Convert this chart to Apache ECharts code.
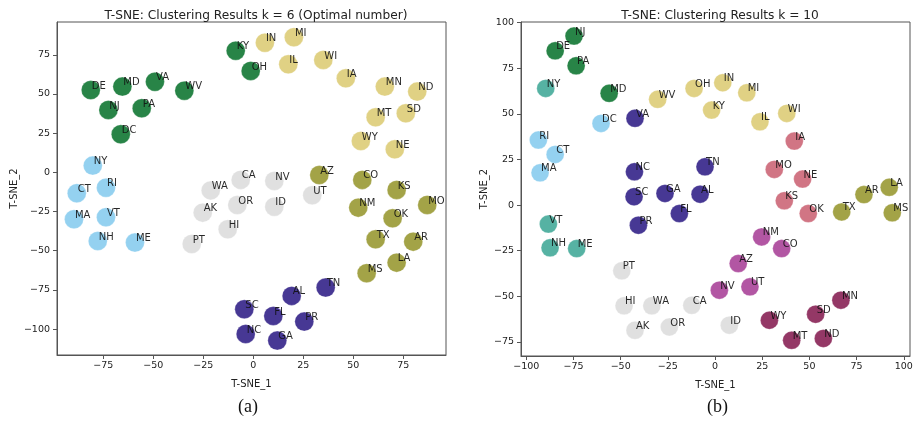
<!DOCTYPE html>
<html><head><meta charset="utf-8">
<script src="https://cdn.jsdelivr.net/npm/echarts@6/dist/echarts.min.js"></script>
<style>html,body{margin:0;padding:0;background:#fff}#c{width:917px;height:422px}</style>
</head><body><div id="c"></div>
<script>
// ---- k = 6 (left) ----
const k6Green  = [["KY",-8.8,77.6],["OH",-1.3,64.7],["DE",-81.3,52.5],["MD",-65.5,54.7],["VA",-49.2,57.8],["WV",-34.5,52.1],["NJ",-72.5,39.8],["PA",-55.8,40.9],["DC",-66.3,24.3]];
const k6Sand   = [["IN",5.8,82.7],["MI",20.3,86.2],["IL",17.5,68.9],["WI",35,71.7],["IA",46.3,60],["MN",65.8,54.7],["ND",82,51.5],["MT",61.2,35.1],["SD",76.3,37.7],["WY",53.8,20],["NE",70.8,14.7]];
const k6Blue   = [["NY",-80.3,4.3],["RI",-73.7,-9.8],["CT",-88.3,-13.3],["MA",-89.7,-29.9],["VT",-73.7,-28.6],["NH",-77.8,-43.8],["ME",-59.2,-44.8]];
const k6Grey   = [["CA",-6.3,-4.8],["NV",10.5,-5.5],["WA",-21.3,-11.5],["UT",29.5,-14.6],["OR",-8,-20.8],["AK",-25.3,-25.7],["ID",10.5,-21.9],["HI",-12.8,-36.3],["PT",-30.8,-45.7]];
const k6Olive  = [["AZ",33,-1.7],["CO",54.5,-4.8],["KS",71.7,-11.2],["NM",52.5,-22.5],["MO",87,-20.8],["OK",69.7,-29.3],["TX",61.2,-42.7],["AR",80,-44.2],["LA",71.7,-57.6],["MS",56.7,-64.3]];
const k6Indigo = [["TN",36.2,-73.5],["AL",19.2,-78.8],["SC",-4.5,-87.3],["FL",10,-91.6],["PR",25.5,-95.2],["NC",-3.8,-103.1],["GA",12,-107.3]];

// ---- k = 10 (right) ----
const k10Green  = [["NJ",-74.7,92.7],["DE",-84.7,84.6],["PA",-73.6,76.4],["MD",-56.1,61.3]];
const k10Teal   = [["NY",-89.7,64],["VT",-88.3,-10.4],["NH",-87.4,-23.4],["ME",-73.3,-23.8]];
const k10Sand   = [["WV",-30.4,58],["OH",-11.1,64],["IN",4.1,67.1],["MI",16.8,61.6],["KY",-1.8,52.1],["WI",38,50.3],["IL",23.8,45.7]];
const k10Blue   = [["DC",-60.4,44.8],["RI",-93.6,35.7],["CT",-84.7,27.8],["MA",-92.7,17.7]];
const k10Indigo = [["VA",-42.4,47.6],["NC",-42.7,18.3],["TN",-5.3,21],["SC",-42.9,4.6],["GA",-26.5,6.4],["AL",-7.9,6],["FL",-18.9,-4.6],["PR",-40.6,-11]];
const k10Rose   = [["IA",42,35.1],["MO",31.4,19.6],["NE",46.4,14.3],["KS",36.7,2.4],["OK",49.4,-4.6]];
const k10Olive  = [["LA",92.3,9.8],["AR",78.9,5.8],["TX",67.1,-3.7],["MS",93.9,-4.2]];
const k10Purple = [["NM",24.7,-17.4],["CO",35.3,-23.8],["AZ",12.3,-32],["NV",2.3,-46.6],["UT",18.5,-44.8]];
const k10Grey   = [["PT",-49.4,-36],["HI",-48.2,-55.2],["WA",-33.5,-55.2],["CA",-12.3,-54.9],["ID",7.6,-65.8],["OR",-24.2,-66.8],["AK",-42.4,-68.6]];
const k10Wine   = [["MN",66.7,-52.1],["SD",53.3,-59.8],["WY",28.8,-63.1],["MT",40.6,-74.1],["ND",57.4,-73.1]];

const leftXTicks  = [-75,-50,-25,0,25,50,75];
const leftYTicks  = [-100,-75,-50,-25,0,25,50,75];
const rightXTicks = [-100,-75,-50,-25,0,25,50,75,100];
const rightYTicks = [-75,-50,-25,0,25,50,75,100];

const C = {green:'#117733', sand:'#DDCC77', blue:'#88CCEE', grey:'#DDDDDD', olive:'#999933', indigo:'#332288', teal:'#44AA99', rose:'#CC6677', purple:'#AA4499', wine:'#882255'};

const minus = v => String(v).replace('-', '\u2212');
const FONT = 'DejaVu Sans';
const AX = '#555';

function mkX(idx, min, max, ticks){
  return {gridIndex: idx, type:'value', min, max, name:'T-SNE_1', nameLocation:'middle', nameGap:24,
    nameTextStyle:{fontFamily:FONT, fontSize:10, color:'#222'},
    splitLine:{show:false},
    axisLine:{show:true, onZero:false, lineStyle:{color:AX, width:1}},
    axisTick:{show:true, inside:false, length:4, customValues:ticks, lineStyle:{color:AX}},
    axisLabel:{customValues:ticks, formatter:minus, fontFamily:FONT, fontSize:9.5, color:'#222', margin:6}};
}
function mkY(idx, min, max, ticks, gap){
  return {gridIndex: idx, type:'value', min, max, name:'T-SNE_2', nameLocation:'middle', nameGap:gap, nameRotate:90,
    nameTextStyle:{fontFamily:FONT, fontSize:10, color:'#222'},
    splitLine:{show:false},
    axisLine:{show:true, onZero:false, lineStyle:{color:AX, width:1}},
    axisTick:{show:true, inside:false, length:4, customValues:ticks, lineStyle:{color:AX}},
    axisLabel:{customValues:ticks, formatter:minus, fontFamily:FONT, fontSize:9.5, color:'#222', margin:7}};
}
function mkS(data, color, gi, size){
  return {type:'scatter', xAxisIndex:gi, yAxisIndex:gi, symbolSize:size,
    data: data.map(d => ({name:d[0], value:[d[1], d[2]]})),
    itemStyle:{color, opacity:0.9, borderColor:'rgba(255,255,255,0.6)', borderWidth:0.5},
    label:{show:true, formatter:p=>p.name, position:['50%','50%'], align:'left', verticalAlign:'middle',
      offset:[1,-4], fontFamily:FONT, fontSize:10, color:'#111'},
    emphasis:{disabled:true}, animation:false};
}

const chart = echarts.init(document.getElementById('c'), null, {renderer:'canvas'});
chart.setOption({
  animation:false,
  backgroundColor:'#fff',
  title:[
    {text:'T-SNE: Clustering Results k = 6 (Optimal number)', left:251, top:5, textAlign:'center', textStyle:{fontFamily:FONT, fontSize:12.2, fontWeight:'normal', color:'#222'}},
    {text:'T-SNE: Clustering Results k = 10', left:715, top:5, textAlign:'center', textStyle:{fontFamily:FONT, fontSize:12.2, fontWeight:'normal', color:'#222'}}
  ],
  grid:[
    {left:57, right:471, top:22, bottom:67, show:true, borderColor:AX, borderWidth:1, backgroundColor:'transparent'},
    {left:521, right:7, top:22, bottom:66, show:true, borderColor:AX, borderWidth:1, backgroundColor:'transparent'}
  ],
  xAxis:[mkX(0,-98.2,96.4,leftXTicks), mkX(1,-102.8,103.3,rightXTicks)],
  yAxis:[mkY(0,-116.5,95.9,leftYTicks,38), mkY(1,-82.7,100.4,rightYTicks,32)],
  graphic:[
    {type:'text', left:238, top:398, style:{text:'(a)', font:'18px "Liberation Serif"', fill:'#111'}},
    {type:'text', left:707, top:398, style:{text:'(b)', font:'18px "Liberation Serif"', fill:'#111'}}
  ],
  series:[
    mkS(k6Green,C.green,0,19), mkS(k6Sand,C.sand,0,19), mkS(k6Blue,C.blue,0,19),
    mkS(k6Grey,C.grey,0,19), mkS(k6Olive,C.olive,0,19), mkS(k6Indigo,C.indigo,0,19),
    mkS(k10Green,C.green,1,18), mkS(k10Teal,C.teal,1,18), mkS(k10Sand,C.sand,1,18),
    mkS(k10Blue,C.blue,1,18), mkS(k10Indigo,C.indigo,1,18), mkS(k10Rose,C.rose,1,18),
    mkS(k10Olive,C.olive,1,18), mkS(k10Purple,C.purple,1,18), mkS(k10Grey,C.grey,1,18),
    mkS(k10Wine,C.wine,1,18)
  ]
});
</script></body></html>
